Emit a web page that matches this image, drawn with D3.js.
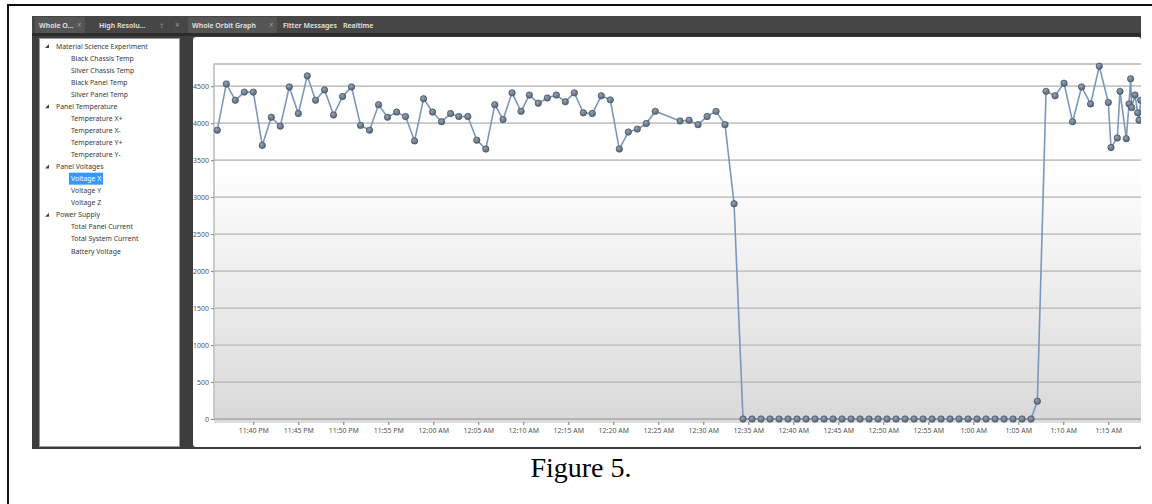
<!DOCTYPE html>
<html>
<head>
<meta charset="utf-8">
<script src="https://cdn.jsdelivr.net/npm/d3@7"></script>
<style>
  body { margin: 0; background: #fff; }
</style>
</head>
<body>
<script>
// data (Voltage X, mV)
var times = [
  "23:36:00","23:37:00","23:38:00","23:39:00","23:40:00","23:41:00","23:42:00","23:43:00","23:44:00","23:45:00",
  "23:46:00","23:46:55","23:47:55","23:48:55","23:49:55","23:50:55","23:51:55","23:52:55","23:53:55","23:54:55",
  "23:55:55","23:56:55","23:57:55","23:58:55","23:59:55","00:00:55","00:01:55","00:02:50","00:03:50","00:04:50",
  "00:05:50","00:06:50","00:07:45","00:08:45","00:09:45","00:10:40","00:11:40","00:12:40","00:13:40","00:14:40",
  "00:15:40","00:16:40","00:17:40","00:18:40","00:19:40","00:20:40","00:21:40","00:22:40","00:23:40","00:24:40",
  "00:27:25","00:28:25","00:29:25","00:30:25","00:31:25","00:32:25","00:33:25",
  "00:34:25","00:35:25","00:36:25","00:37:25","00:38:25","00:39:25","00:40:25","00:41:25","00:42:25","00:43:25",
  "00:44:25","00:45:25","00:46:25","00:47:25","00:48:25","00:49:25","00:50:25","00:51:25","00:52:25","00:53:25",
  "00:54:25","00:55:25","00:56:25","00:57:25","00:58:25","00:59:25","01:00:25","01:01:25","01:02:25","01:03:25",
  "01:04:25","01:05:25","01:06:25",
  "01:07:07","01:08:05","01:09:05","01:10:05","01:11:02","01:12:02","01:13:02","01:14:00","01:15:00","01:15:18",
  "01:16:00","01:16:18","01:17:00","01:17:18","01:17:29","01:17:36","01:17:58","01:18:16","01:18:25","01:18:36"
];
var voltageX = [
  3905,4530,4310,4420,4420,3700,4080,3960,4490,4130,
  4640,4310,4450,4110,4360,4490,3970,3905,4250,4080,
  4150,4090,3760,4330,4150,4020,4130,4090,4090,3770,
  3650,4250,4050,4410,4160,4380,4270,4340,4380,4290,
  4410,4140,4130,4370,4315,3650,3880,3920,3995,4160,
  4030,4040,3980,4090,4160,3980,2910,
  0,0,0,0,0,0,0,0,0,0,
  0,0,0,0,0,0,0,0,0,0,
  0,0,0,0,0,0,0,0,0,0,
  0,0,0,
  240,4430,4370,4540,4020,4490,4260,4770,4280,3670,
  3800,4430,3790,4260,4600,4210,4380,4140,4040,4310
];
var yTicks = [0,500,1000,1500,2000,2500,3000,3500,4000,4500];
var treeGroups = [
  {name:"Material Science Experiment", items:["Black Chassis Temp","Silver Chassis Temp","Black Panel Temp","Silver Panel Temp"]},
  {name:"Panel Temperature", items:["Temperature X+","Temperature X-","Temperature Y+","Temperature Y-"]},
  {name:"Panel Voltages", items:["Voltage X","Voltage Y","Voltage Z"]},
  {name:"Power Supply", items:["Total Panel Current","Total System Current","Battery Voltage"]}
];
var selectedItem = "Voltage X";
var tabs = [
  {label:"Whole O...", x:39, close:true, active:true, w:50},
  {label:"High Resolu...", x:99, close:false, active:false, w:0},
  {label:"Whole Orbit Graph", x:192, close:true, active:true, w:89},
  {label:"Fitter Messages", x:283, close:false, active:false, w:0},
  {label:"Realtime", x:343, close:false, active:false, w:0}
];

window.onload = function(){
  var w = 1152, h = 504;
  var sans = "'Noto Sans', 'DejaVu Sans', sans-serif";
  var svg = d3.select("body").append("svg").attr("width", w).attr("height", h)
    .style("font-family", sans);
  var defs = svg.append("defs");

  // helper: clock string -> Date (PM on day 1, AM on day 2)
  function toDate(s){
    var p = s.split(":").map(Number);
    return new Date(2012, 0, p[0] >= 12 ? 1 : 2, p[0], p[1], p[2] || 0);
  }
  var data = times.map(function(t, i){ return {t: toDate(t), v: voltageX[i]}; });

  // outer figure border
  svg.append("path").attr("d", "M8,504V5H1152")
    .attr("fill", "none").attr("stroke", "#111").attr("stroke-width", 2);

  // application frame
  svg.append("rect").attr("x", 32).attr("y", 16).attr("width", 1109).attr("height", 433).attr("fill", "#3d3d3d");
  svg.append("rect").attr("x", 32).attr("y", 16).attr("width", 1109).attr("height", 17).attr("fill", "#464646");
  svg.append("rect").attr("x", 32).attr("y", 33).attr("width", 1109).attr("height", 3).attr("fill", "#2c2c2c");

  // tabs
  var tabG = svg.append("g");
  tabs.forEach(function(t){
    if (t.active) {
      tabG.append("rect").attr("x", t.x - 4).attr("y", 17).attr("width", t.w).attr("height", 16).attr("fill", "#555");
    }
    tabG.append("text").attr("x", t.x).attr("y", 28).attr("font-size", 7).attr("font-weight", 600)
      .attr("fill", "#e6e6e6").text(t.label);
    if (t.close) {
      tabG.append("text").attr("x", t.x + t.w - 12).attr("y", 28).attr("font-size", 8)
        .attr("fill", "#9a9a9a").text("\u00d7");
    }
  });
  tabG.append("text").attr("x", 160).attr("y", 28).attr("font-size", 7).attr("fill", "#9a9a9a").text("\u2020");
  tabG.append("text").attr("x", 175).attr("y", 28).attr("font-size", 8).attr("fill", "#9a9a9a").text("\u00d7");

  // left tree panel
  svg.append("rect").attr("x", 39.5).attr("y", 38.5).attr("width", 140).attr("height", 408)
    .attr("fill", "#fff").attr("stroke", "#9a9a9a");
  var tree = svg.append("g");
  var row = 0;
  treeGroups.forEach(function(g){
    var y = 46 + row * 12.06;
    tree.append("path").attr("d", "M45," + (y + 2) + "l4,0l0,-4z").attr("fill", "#444");
    tree.append("text").attr("x", 56).attr("y", y + 2.5).attr("font-size", 6.9).attr("fill", "#3a3a3a").text(g.name);
    row++;
    g.items.forEach(function(it){
      var yy = 46 + row * 12.06;
      if (it === selectedItem) {
        tree.append("rect").attr("x", 69).attr("y", yy - 6).attr("width", 34).attr("height", 12).attr("fill", "#3399ff");
      }
      tree.append("text").attr("x", 71).attr("y", yy + 2.5).attr("font-size", 6.9)
        .attr("fill", it === selectedItem ? "#fff" : "#3a3a3a").text(it);
      row++;
    });
  });

  // chart panel
  svg.append("rect").attr("x", 193).attr("y", 37).attr("width", 948).attr("height", 410).attr("rx", 3)
    .attr("fill", "#fff");

  // scales
  var x = d3.scaleTime()
    .domain([toDate("23:35:38"), toDate("01:18:38")])
    .range([214, 1141]);
  var y = d3.scaleLinear().domain([0, 4800]).range([419, 64]);

  // plot background gradient
  var grad = defs.append("linearGradient").attr("id", "bg").attr("x1", 0).attr("y1", 0).attr("x2", 0).attr("y2", 1);
  grad.append("stop").attr("offset", "0%").attr("stop-color", "#ffffff");
  grad.append("stop").attr("offset", "28%").attr("stop-color", "#ffffff");
  grad.append("stop").attr("offset", "100%").attr("stop-color", "#d9d9d9");

  svg.append("rect").attr("x", 214).attr("y", y(4800)).attr("width", 927).attr("height", y(0) - y(4800) + 2)
    .attr("fill", "url(#bg)");

  defs.append("clipPath").attr("id", "clip").append("rect")
    .attr("x", 210).attr("y", 58).attr("width", 931).attr("height", 370);

  // grid lines
  svg.append("g").selectAll("line").data(yTicks.concat([4800])).enter().append("line")
    .attr("x1", 214).attr("x2", 1141)
    .attr("y1", function(d){ return y(d); }).attr("y2", function(d){ return y(d); })
    .attr("stroke", function(d){ return d === 0 ? "#b4b4b4" : "#c6c6c6"; })
    .attr("stroke-width", 1.8);

  // y axis
  var yAxis = svg.append("g").attr("transform", "translate(214,0)")
    .call(d3.axisLeft(y).tickValues(yTicks).tickFormat(d3.format("d")).tickSize(3).tickPadding(2));
  yAxis.attr("font-family", sans);
  yAxis.select(".domain").attr("stroke", "#c6c6c6").attr("stroke-width", 1.8)
    .attr("d", "M0," + y(0) + "V" + y(4800));
  yAxis.selectAll(".tick line").attr("stroke", "#888");
  yAxis.selectAll("text").attr("font-size", 7).attr("fill", "#555");

  // x axis
  var xAxis = svg.append("g").attr("transform", "translate(0,422)")
    .call(d3.axisBottom(x).ticks(d3.timeMinute.every(5)).tickFormat(d3.timeFormat("%-I:%M %p"))
      .tickSize(3).tickPadding(3));
  xAxis.attr("font-family", sans);
  xAxis.select(".domain").attr("stroke", "#bdbdbd").attr("stroke-width", 1.2).attr("d", "M214,0H1141");
  xAxis.selectAll(".tick line").attr("stroke", "#777");
  xAxis.selectAll("text").attr("font-size", 7).attr("fill", "#555");

  // series
  var plot = svg.append("g").attr("clip-path", "url(#clip)");
  var line = d3.line().x(function(d){ return x(d.t); }).y(function(d){ return y(d.v); });
  plot.append("path").datum(data).attr("d", line)
    .attr("fill", "none").attr("stroke", "#7a98bd").attr("stroke-width", 1.6);

  var mg = defs.append("radialGradient").attr("id", "mk").attr("cx", "40%").attr("cy", "35%").attr("r", "65%");
  mg.append("stop").attr("offset", "0%").attr("stop-color", "#94a2b2");
  mg.append("stop").attr("offset", "100%").attr("stop-color", "#55657a");

  plot.selectAll("circle").data(data).enter().append("circle")
    .attr("cx", function(d){ return x(d.t); })
    .attr("cy", function(d){ return y(d.v); })
    .attr("r", 3.2)
    .attr("fill", "url(#mk)")
    .attr("stroke", "#48535f").attr("stroke-width", 0.7);

  // caption
  svg.append("text").attr("x", 581).attr("y", 477).attr("text-anchor", "middle")
    .style("font-family", "'Liberation Serif', 'Times New Roman', serif").attr("font-size", 28)
    .attr("fill", "#000").text("Figure 5.");
};
</script>
</body>
</html>
